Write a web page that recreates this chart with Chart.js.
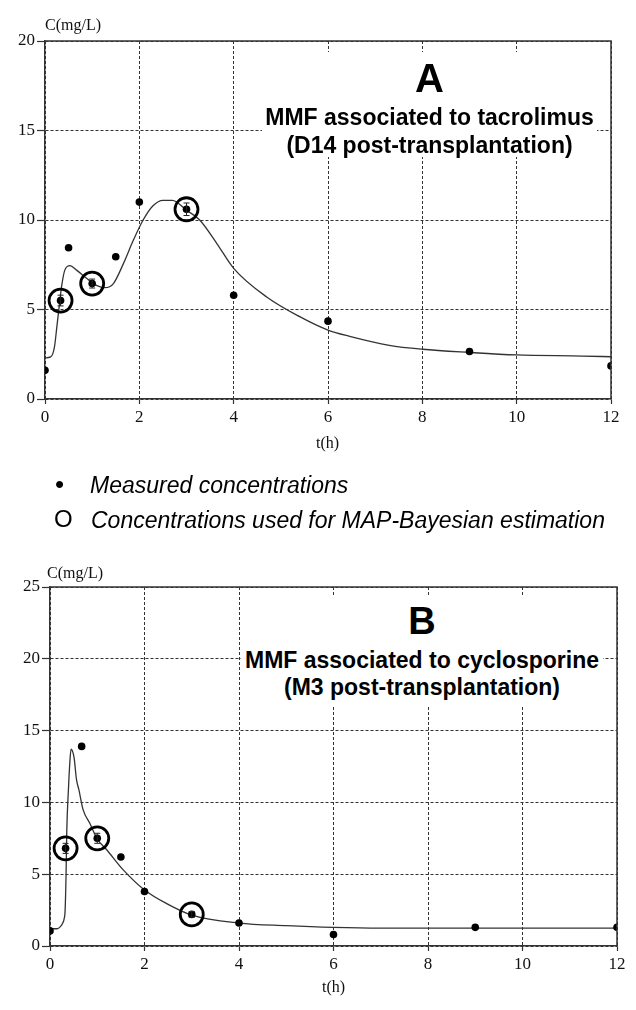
<!DOCTYPE html>
<html>
<head>
<meta charset="utf-8">
<script src="https://cdn.jsdelivr.net/npm/chart.js@4/dist/chart.umd.min.js"></script>
<style>
  body { margin: 0; width: 636px; height: 1010px; position: relative; overflow: hidden; background: #fff;
         font-family: "Liberation Sans", Arial, sans-serif; }
  canvas { position: absolute; left: 0; }
  .abs { position: absolute; white-space: nowrap; }
  .ser { font-family: "Liberation Serif", "Times New Roman", serif; font-size: 16px; line-height: 18px; color: #111; }
  .box { position: absolute; background: #fff; }
  .ann { position: absolute; text-align: center; font-weight: bold; color: #000; white-space: nowrap; }
  .leg { font-style: italic; font-size: 23px; line-height: 26px; color: #000; }
</style>
</head>
<body>
<canvas id="chartA" width="636" height="440" style="top:0"></canvas>
<canvas id="chartB" width="636" height="420" style="top:560px"></canvas>

<!-- axis titles -->
<div class="abs ser" style="left:45px;top:16px">C(mg/L)</div>
<div class="abs ser" style="left:316px;top:434px">t(h)</div>
<div class="abs ser" style="left:47px;top:564px">C(mg/L)</div>
<div class="abs ser" style="left:322px;top:978px">t(h)</div>

<!-- panel labels -->
<div class="box" style="left:262px;top:52px;width:335px;height:105px"></div>
<div class="ann" style="left:262px;width:335px;top:58px;font-size:40px;line-height:40px">A</div>
<div class="ann" style="left:262px;width:335px;top:105px;font-size:23px;line-height:24px">MMF associated to tacrolimus</div>
<div class="ann" style="left:262px;width:335px;top:133px;font-size:23px;line-height:24px">(D14 post-transplantation)</div>

<div class="box" style="left:241px;top:595px;width:362px;height:110px"></div>
<div class="ann" style="left:241px;width:362px;top:602px;font-size:38px;line-height:38px">B</div>
<div class="ann" style="left:241px;width:362px;top:648px;font-size:23px;line-height:24px">MMF associated to cyclosporine</div>
<div class="ann" style="left:241px;width:362px;top:675px;font-size:23px;line-height:24px">(M3 post-transplantation)</div>

<!-- legend -->
<div class="abs" style="left:55px;top:468px;font-size:26px;line-height:32px">•</div>
<div class="abs leg" style="left:90px;top:472px">Measured concentrations</div>
<div class="abs" style="left:54px;top:505px;font-size:24px;line-height:28px">O</div>
<div class="abs leg" style="left:91px;top:507px">Concentrations used for MAP-Bayesian estimation</div>

<script>
// panel A: MMF + tacrolimus, D14
const tA = [0, 0.33, 0.5, 1, 1.5, 2, 3, 4, 6, 9, 12];
const cA = [1.6, 5.5, 8.45, 6.45, 7.95, 11.0, 10.6, 5.8, 4.35, 2.65, 1.85];
const mapTA = [0.33, 1, 3];
const mapCA = [5.5, 6.45, 10.6];
const errA = [0.3, 0.25, 0.35];
const curveTA = [0, 0.12, 0.2, 0.25, 0.3, 0.35, 0.42, 0.53, 0.67, 0.88, 1.09, 1.27, 1.45, 1.66, 1.87,
  2.08, 2.29, 2.5, 2.7, 3.0, 3.28, 3.64, 4.0, 4.7, 5.4, 6.0, 6.46, 7.3, 8.0, 9.0, 10.0, 11.4, 12];
const curveCA = [2.3, 2.35, 2.9, 4.0, 5.15, 6.25, 7.2, 7.45, 7.2, 6.75, 6.35, 6.22, 6.45, 7.55, 8.85,
  10.0, 10.8, 11.1, 11.1, 10.55, 10.0, 8.7, 7.3, 5.7, 4.6, 3.85, 3.5, 3.0, 2.78, 2.6, 2.46, 2.4, 2.36];

// panel B: MMF + cyclosporine, M3
const tB = [0, 0.33, 0.67, 1, 1.5, 2, 3, 4, 6, 9, 12];
const cB = [1.05, 6.8, 13.9, 7.5, 6.2, 3.8, 2.2, 1.6, 0.8, 1.3, 1.3];
const mapTB = [0.33, 1, 3];
const mapCB = [6.8, 7.5, 2.2];
const errB = [0.35, 0.35, 0.2];
const curveTB = [0, 0.15, 0.22, 0.27, 0.3, 0.32, 0.34, 0.355, 0.39, 0.42, 0.445, 0.51, 0.56, 0.61, 0.7,
  0.85, 1.0, 1.2, 1.55, 2.0, 2.47, 3.0, 4.0, 5.0, 6.0, 7.0, 9.0, 12];
const curveCB = [1.2, 1.2, 1.35, 1.6, 1.9, 2.5, 5.0, 8.0, 10.9, 12.8, 13.7, 13.1, 11.6, 10.9, 9.5,
  8.5, 7.45, 6.7, 5.3, 3.9, 2.95, 2.15, 1.6, 1.42, 1.3, 1.25, 1.25, 1.24];

const tLabels = [0, 2, 4, 6, 8, 10, 12];

const pts = (xs, ys) => xs.map((x, i) => ({ x, y: ys[i] }));

// plot frame (top + right) and error bars on the MAP points
const frame = {
  id: "frame",
  afterDraw(chart) {
    const { ctx, chartArea: a } = chart;
    ctx.save();
    ctx.strokeStyle = "#333";
    ctx.lineWidth = 1.5;
    ctx.beginPath();
    ctx.moveTo(a.left, a.top); ctx.lineTo(a.right, a.top); ctx.lineTo(a.right, a.bottom);
    ctx.stroke();
    ctx.restore();
  },
  afterDatasetsDraw(chart) {
    const { ctx, scales: { x, y } } = chart;
    ctx.save();
    ctx.strokeStyle = "#222";
    ctx.lineWidth = 1;
    chart.data.datasets.forEach((ds) => {
      if (!ds.err) return;
      ds.data.forEach((p, i) => {
        const px = x.getPixelForValue(p.x);
        const y1 = y.getPixelForValue(p.y - ds.err[i]);
        const y2 = y.getPixelForValue(p.y + ds.err[i]);
        ctx.beginPath();
        ctx.moveTo(px, y1); ctx.lineTo(px, y2);
        ctx.moveTo(px - 3, y1); ctx.lineTo(px + 3, y1);
        ctx.moveTo(px - 3, y2); ctx.lineTo(px + 3, y2);
        ctx.stroke();
      });
    });
    ctx.restore();
  },
};

function makeChart(id, meas, map, err, curve, yMax, yW, pad) {
  const tickFont = { family: "'Liberation Serif', 'Times New Roman', serif", size: 17 };
  return new Chart(document.getElementById(id), {
    type: "scatter",
    data: {
      datasets: [
        { data: meas, pointRadius: 3.8, pointHoverRadius: 3.8, backgroundColor: "#000", borderColor: "#000", borderWidth: 0 },
        { data: map, err, pointRadius: 11.5, pointHoverRadius: 11.5, backgroundColor: "rgba(0,0,0,0)", borderColor: "#000", borderWidth: 2.8 },
        { data: curve, showLine: true, pointRadius: 0, borderColor: "#333", borderWidth: 1.3,
          cubicInterpolationMode: "monotone", fill: false },
      ],
    },
    options: {
      responsive: false,
      animation: false,
      events: [],
      layout: { padding: pad },
      plugins: { legend: { display: false }, tooltip: { enabled: false } },
      scales: {
        x: {
          type: "linear", min: 0, max: 12,
          afterBuildTicks: (s) => { s.ticks = tLabels.map((v) => ({ value: v })); },
          afterFit: (s) => { s.height = 30; },
          ticks: { font: tickFont, color: "#111", padding: 3, maxRotation: 0 },
          grid: { color: "#333", lineWidth: 1, tickLength: 5, tickColor: "#333", tickWidth: 1.2 },
          border: { color: "#333", width: 1.5, dash: [3, 2] },
        },
        y: {
          min: 0, max: yMax,
          afterFit: (s) => { s.width = yW; },
          ticks: { stepSize: 5, font: tickFont, color: "#111", padding: 2 },
          grid: { color: "#333", lineWidth: 1, tickLength: 8, tickColor: "#333", tickWidth: 1.2 },
          border: { color: "#333", width: 1.5, dash: [3, 2] },
        },
      },
    },
    plugins: [frame],
  });
}

makeChart("chartA", pts(tA, cA), pts(mapTA, mapCA), errA, pts(curveTA, curveCA), 20, 45,
  { left: 0, top: 41, right: 25, bottom: 11 });
makeChart("chartB", pts(tB, cB), pts(mapTB, mapCB), errB, pts(curveTB, curveCB), 25, 50,
  { left: 0, top: 27, right: 19, bottom: 4 });
</script>
</body>
</html>
